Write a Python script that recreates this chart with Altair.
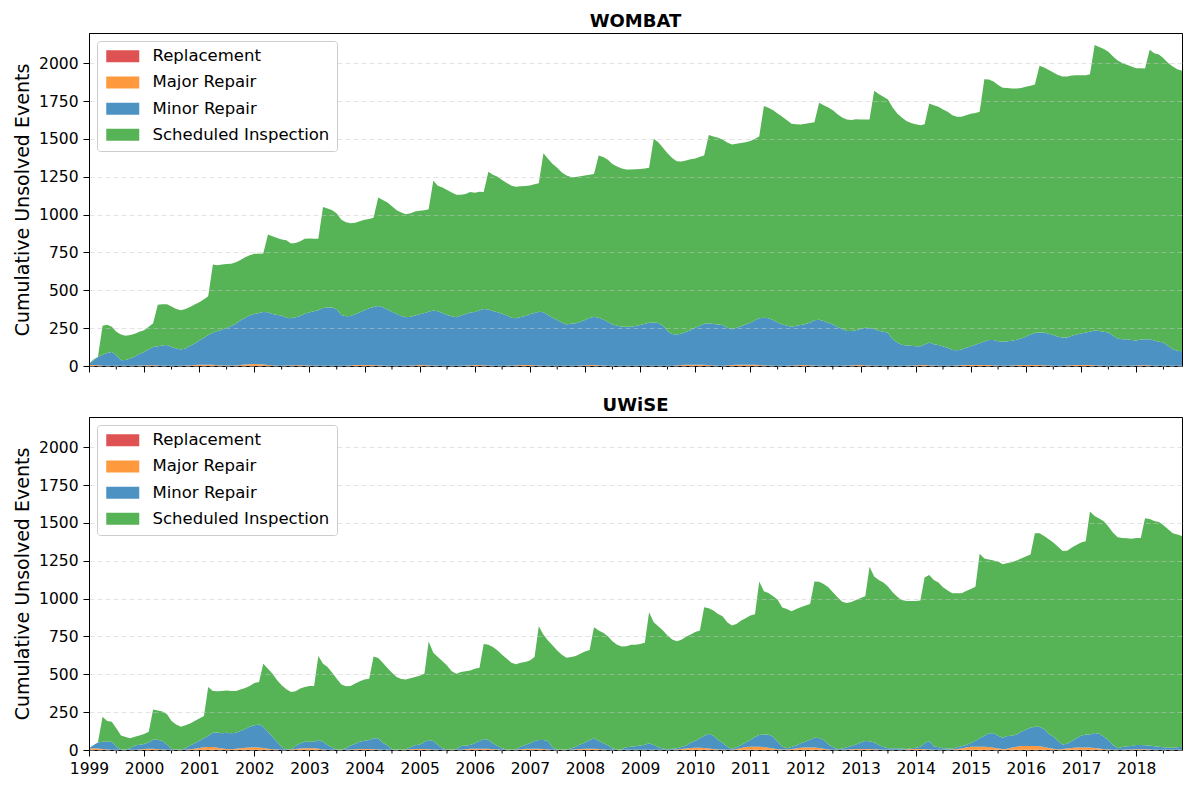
import altair as alt
import pandas as pd

CATEGORIES = ["Replacement", "Major Repair", "Minor Repair", "Scheduled Inspection"]
COLORS = ["#de5253", "#ff993e", "#4c92c3", "#56b356"]
YEARS = list(range(1999, 2019))

# monthly readings, Jan 1999 .. Nov 2018 (top edge of the whole stack)
WOMBAT_TOTAL = [
    15, 44, 60, 266, 273, 260, 226, 208, 200, 204, 213, 226,
    237, 260, 282, 404, 408, 408, 393, 377, 368, 377, 390, 406,
    421, 441, 461, 670, 665, 670, 674, 676, 685, 701, 719, 732,
    741, 741, 743, 869, 858, 845, 836, 830, 810, 812, 825, 841,
    843, 841, 841, 1051, 1040, 1029, 1007, 967, 949, 943, 947, 956,
    967, 971, 980, 1113, 1096, 1080, 1056, 1029, 1014, 1003, 1009, 1020,
    1025, 1029, 1036, 1224, 1191, 1180, 1162, 1147, 1131, 1131, 1136, 1149,
    1145, 1151, 1149, 1284, 1264, 1251, 1229, 1209, 1191, 1184, 1187, 1189,
    1193, 1200, 1207, 1406, 1369, 1335, 1309, 1278, 1258, 1249, 1249, 1253,
    1258, 1264, 1269, 1391, 1380, 1362, 1335, 1318, 1304, 1298, 1298, 1300,
    1302, 1304, 1309, 1502, 1479, 1442, 1406, 1375, 1353, 1351, 1357, 1366,
    1371, 1382, 1391, 1526, 1517, 1508, 1497, 1477, 1464, 1468, 1473, 1479,
    1486, 1502, 1517, 1717, 1706, 1690, 1668, 1646, 1624, 1601, 1597, 1595,
    1601, 1606, 1610, 1739, 1723, 1708, 1690, 1664, 1641, 1628, 1626, 1630,
    1629, 1628, 1628, 1819, 1797, 1779, 1761, 1708, 1668, 1641, 1619, 1606,
    1597, 1590, 1597, 1734, 1723, 1712, 1695, 1679, 1657, 1646, 1646, 1657,
    1666, 1672, 1679, 1894, 1892, 1879, 1856, 1839, 1837, 1834, 1834, 1837,
    1845, 1852, 1859, 1983, 1972, 1956, 1939, 1923, 1912, 1912, 1919, 1921,
    1921, 1921, 1927, 2120, 2107, 2094, 2076, 2045, 2018, 2001, 1990, 1978,
    1967, 1967, 1965, 2089, 2067, 2058, 2034, 2001, 1978, 1961, 1950,
]
# top edge of the Minor Repair band
WOMBAT_MINOR_TOP = [
    15, 38, 60, 75, 86, 93, 71, 38, 40, 49, 62, 80,
    93, 111, 126, 131, 135, 138, 126, 115, 109, 115, 133, 149,
    169, 186, 204, 220, 231, 240, 253, 264, 279, 302, 319, 333,
    344, 350, 357, 355, 344, 337, 333, 319, 315, 322, 330, 346,
    355, 362, 368, 384, 386, 386, 375, 337, 328, 330, 342, 355,
    368, 382, 390, 397, 388, 373, 359, 346, 330, 322, 326, 333,
    342, 350, 359, 366, 362, 350, 337, 328, 322, 333, 344, 353,
    357, 368, 377, 373, 364, 355, 346, 333, 319, 315, 324, 330,
    342, 350, 359, 355, 337, 319, 304, 288, 275, 279, 282, 293,
    304, 317, 326, 319, 308, 293, 275, 266, 260, 260, 260, 264,
    271, 279, 286, 288, 284, 266, 231, 211, 208, 213, 226, 237,
    253, 266, 279, 282, 277, 275, 271, 253, 242, 253, 262, 275,
    286, 302, 315, 319, 315, 304, 288, 275, 266, 260, 266, 271,
    277, 288, 302, 306, 297, 286, 275, 257, 244, 231, 231, 237,
    244, 253, 251, 244, 233, 226, 220, 177, 155, 140, 135, 133,
    131, 131, 142, 155, 144, 138, 129, 120, 106, 104, 109, 120,
    131, 140, 151, 162, 171, 171, 164, 160, 164, 166, 173, 182,
    193, 208, 220, 222, 222, 213, 204, 193, 189, 189, 200, 208,
    215, 222, 226, 235, 231, 226, 222, 200, 182, 177, 177, 171,
    169, 175, 177, 177, 169, 160, 155, 133, 111, 100, 98,
]
WOMBAT_MAJOR = [
    6, 6, 4, 2, 1, 1, 1, 1, 1, 1, 2, 3,
    4, 5, 4, 2, 1, 1, 1, 1, 2, 3, 4, 5,
    7, 8, 8, 7, 5, 4, 3, 3, 4, 6, 9, 11,
    12, 11, 9, 6, 4, 2, 2, 3, 4, 5, 5, 4,
    3, 2, 2, 2, 2, 2, 2, 2, 2, 3, 5, 6,
    6, 5, 5, 4, 3, 2, 2, 2, 2, 2, 3, 4,
    5, 5, 4, 3, 2, 2, 2, 2, 2, 2, 3, 4,
    5, 5, 4, 3, 2, 2, 2, 2, 3, 4, 5, 5,
    5, 4, 3, 2, 2, 2, 2, 2, 2, 2, 2, 3,
    4, 5, 5, 4, 3, 2, 2, 2, 2, 2, 2, 2,
    2, 2, 2, 2, 2, 2, 2, 2, 3, 5, 7, 8,
    8, 8, 7, 5, 3, 2, 2, 3, 5, 7, 8, 8,
    8, 7, 6, 4, 3, 2, 2, 2, 2, 3, 4, 5,
    5, 4, 3, 2, 2, 2, 2, 2, 2, 3, 4, 5,
    5, 4, 3, 2, 2, 2, 2, 2, 2, 2, 2, 3,
    4, 5, 5, 4, 3, 2, 2, 2, 2, 3, 4, 5,
    6, 6, 6, 6, 5, 4, 3, 2, 2, 3, 4, 5,
    6, 6, 6, 5, 4, 3, 2, 2, 2, 3, 4, 5,
    5, 5, 5, 4, 3, 2, 2, 2, 2, 2, 2, 2,
    3, 4, 4, 3, 2, 2, 2, 2, 2, 2, 2,
]
WOMBAT_REPLACEMENT = [
    1, 1, 1, 0, 0, 0, 0, 0, 0, 0, 0, 0,
    0, 0, 1, 1, 0, 0, 0, 0, 0, 0, 0, 1,
    1, 1, 1, 1, 0, 0, 0, 0, 0, 1, 1, 1,
    1, 1, 1, 0, 0, 0, 0, 0, 0, 0, 0, 0,
    0, 0, 0, 0, 0, 0, 0, 0, 0, 0, 1, 1,
    1, 1, 0, 0, 0, 0, 0, 0, 0, 0, 0, 0,
    1, 1, 0, 0, 0, 0, 0, 0, 0, 0, 0, 0,
    1, 1, 0, 0, 0, 0, 0, 0, 0, 0, 1, 1,
    1, 0, 0, 0, 0, 0, 0, 0, 0, 0, 0, 0,
    0, 1, 1, 0, 0, 0, 0, 0, 0, 0, 0, 0,
    0, 0, 0, 0, 0, 0, 0, 0, 0, 1, 1, 1,
    1, 1, 1, 0, 0, 0, 0, 0, 1, 1, 1, 1,
    1, 1, 1, 0, 0, 0, 0, 0, 0, 0, 0, 1,
    1, 0, 0, 0, 0, 0, 0, 0, 0, 0, 0, 1,
    1, 0, 0, 0, 0, 0, 0, 0, 0, 0, 0, 0,
    0, 1, 1, 0, 0, 0, 0, 0, 0, 0, 1, 1,
    1, 1, 1, 1, 1, 0, 0, 0, 0, 0, 1, 1,
    1, 1, 1, 1, 0, 0, 0, 0, 0, 0, 1, 1,
    1, 1, 1, 0, 0, 0, 0, 0, 0, 0, 0, 0,
    0, 1, 1, 0, 0, 0, 0, 0, 0, 0, 0,
]

UWISE_TOTAL = [
    11, 33, 50, 219, 191, 186, 143, 96, 86, 77, 88, 96,
    105, 121, 268, 261, 254, 237, 191, 169, 154, 164, 175, 191,
    208, 224, 417, 390, 388, 390, 393, 390, 390, 399, 410, 423,
    443, 450, 570, 537, 504, 461, 428, 401, 384, 388, 406, 417,
    423, 423, 621, 570, 548, 511, 471, 432, 421, 423, 439, 454,
    465, 471, 618, 607, 577, 542, 511, 482, 469, 465, 474, 482,
    491, 504, 717, 643, 614, 586, 559, 520, 504, 515, 520, 526,
    537, 544, 700, 695, 680, 658, 629, 603, 577, 566, 577, 581,
    592, 614, 818, 761, 724, 691, 658, 629, 610, 614, 621, 636,
    651, 660, 811, 789, 774, 752, 719, 695, 684, 686, 695, 695,
    700, 708, 910, 844, 818, 789, 757, 730, 719, 728, 748, 763,
    779, 789, 943, 936, 921, 899, 884, 844, 822, 833, 855, 870,
    888, 897, 1114, 1048, 1037, 1015, 993, 941, 932, 917, 932, 943,
    954, 965, 1114, 1112, 1097, 1075, 1042, 1009, 980, 971, 978, 991,
    1004, 1015, 1211, 1147, 1123, 1107, 1081, 1042, 1013, 991, 985, 985,
    985, 987, 1140, 1156, 1123, 1107, 1075, 1053, 1035, 1035, 1035, 1050,
    1064, 1079, 1296, 1265, 1259, 1252, 1246, 1228, 1235, 1241, 1252, 1265,
    1279, 1292, 1432, 1432, 1414, 1393, 1371, 1342, 1314, 1316, 1338, 1355,
    1371, 1379, 1575, 1546, 1529, 1511, 1476, 1436, 1406, 1401, 1399, 1395,
    1401, 1401, 1531, 1526, 1513, 1507, 1485, 1458, 1432, 1423, 1414,
]
UWISE_MINOR_TOP = [
    11, 33, 50, 55, 55, 55, 22, 5, 4, 12, 29, 35,
    39, 50, 70, 68, 59, 37, 6, 3, 3, 12, 29, 44,
    61, 77, 94, 114, 116, 110, 114, 110, 114, 125, 138, 154,
    164, 169, 154, 121, 88, 55, 18, 5, 5, 26, 44, 55,
    55, 55, 66, 55, 33, 15, 3, 4, 12, 29, 42, 55,
    61, 66, 77, 77, 48, 29, 5, 4, 4, 4, 20, 31,
    37, 53, 66, 59, 33, 12, 4, 4, 5, 26, 29, 33,
    44, 59, 72, 66, 44, 26, 12, 4, 4, 5, 22, 33,
    44, 59, 66, 66, 59, 15, 4, 4, 4, 10, 22, 37,
    50, 66, 77, 61, 44, 31, 12, 4, 5, 18, 22, 25,
    29, 35, 44, 33, 18, 10, 5, 8, 12, 20, 29, 48,
    61, 77, 94, 107, 94, 66, 48, 22, 6, 18, 33, 50,
    66, 86, 99, 103, 103, 88, 55, 22, 12, 20, 29, 44,
    55, 68, 81, 79, 66, 37, 20, 5, 10, 18, 26, 37,
    50, 59, 57, 50, 33, 20, 12, 12, 12, 10, 6, 12,
    15, 22, 44, 59, 24, 18, 12, 10, 8, 18, 24, 33,
    46, 61, 77, 94, 110, 110, 94, 81, 92, 94, 103, 121,
    134, 147, 154, 154, 138, 105, 90, 59, 37, 42, 59, 77,
    94, 103, 103, 112, 107, 88, 66, 33, 12, 20, 24, 26,
    33, 33, 31, 29, 24, 22, 18, 15, 15, 18, 22,
]
UWISE_MAJOR = [
    8, 10, 9, 6, 4, 2, 2, 1, 1, 2, 2, 3,
    5, 7, 7, 5, 3, 1, 1, 1, 1, 2, 4, 8,
    12, 16, 18, 17, 14, 9, 6, 5, 7, 10, 13, 15,
    16, 15, 12, 8, 5, 3, 2, 2, 3, 6, 9, 11,
    11, 10, 7, 4, 2, 1, 1, 1, 2, 3, 4, 5,
    5, 5, 4, 3, 2, 1, 1, 1, 1, 2, 4, 6,
    6, 5, 4, 3, 2, 1, 1, 1, 1, 2, 4, 7,
    8, 8, 8, 7, 5, 3, 2, 1, 1, 2, 4, 7,
    8, 8, 7, 5, 3, 1, 1, 1, 1, 2, 4, 6,
    8, 8, 8, 6, 4, 2, 1, 1, 1, 2, 2, 2,
    2, 2, 2, 2, 2, 1, 1, 2, 3, 5, 9, 12,
    13, 13, 12, 9, 6, 4, 3, 2, 2, 6, 12, 17,
    20, 20, 20, 18, 14, 9, 5, 3, 3, 5, 9, 13,
    15, 15, 15, 13, 8, 4, 2, 1, 2, 3, 4, 6,
    6, 6, 6, 4, 3, 2, 2, 2, 2, 2, 3, 5,
    5, 5, 4, 3, 2, 2, 2, 2, 3, 5, 9, 15,
    19, 20, 20, 20, 18, 14, 9, 6, 8, 14, 20, 24,
    25, 25, 24, 22, 18, 12, 7, 4, 5, 9, 13, 15,
    15, 15, 15, 13, 9, 5, 3, 2, 2, 2, 3, 3,
    4, 4, 4, 3, 2, 2, 2, 2, 2, 2, 2,
]
UWISE_REPLACEMENT = [
    1, 1, 1, 1, 0, 0, 0, 0, 0, 0, 0, 0,
    1, 1, 1, 0, 0, 0, 0, 0, 0, 0, 1, 1,
    2, 2, 2, 2, 1, 1, 0, 0, 1, 1, 2, 2,
    2, 2, 1, 1, 0, 0, 0, 0, 0, 1, 1, 1,
    1, 1, 1, 0, 0, 0, 0, 0, 0, 0, 1, 1,
    1, 1, 1, 0, 0, 0, 0, 0, 0, 0, 1, 1,
    1, 1, 1, 0, 0, 0, 0, 0, 0, 0, 1, 1,
    1, 1, 1, 1, 0, 0, 0, 0, 0, 0, 1, 1,
    1, 1, 1, 1, 0, 0, 0, 0, 0, 0, 1, 1,
    1, 1, 1, 1, 0, 0, 0, 0, 0, 0, 0, 0,
    0, 0, 0, 0, 0, 0, 0, 0, 0, 1, 1, 1,
    2, 2, 2, 1, 1, 0, 0, 0, 0, 1, 2, 2,
    2, 2, 2, 2, 1, 1, 0, 0, 0, 1, 1, 2,
    2, 2, 2, 1, 1, 0, 0, 0, 0, 0, 1, 1,
    1, 1, 1, 1, 0, 0, 0, 0, 0, 0, 0, 1,
    1, 1, 1, 0, 0, 0, 0, 0, 0, 1, 1, 2,
    2, 2, 2, 2, 2, 1, 1, 1, 1, 2, 2, 2,
    2, 2, 2, 2, 2, 1, 1, 0, 1, 1, 1, 2,
    2, 2, 2, 1, 1, 0, 0, 0, 0, 0, 0, 0,
    1, 1, 1, 0, 0, 0, 0, 0, 0, 0, 0,
]

PLOT_W, PLOT_H = 1093, 333
# legend swatch: 33 x 12 px drawn with symbolSize 144 (unit radius 6)
RECT = "M-2.75,-1L2.75,-1L2.75,1L-2.75,1Z"


def build_frame(total, minor_top, major, repl):
    months = pd.date_range("1999-01-01", periods=len(total), freq="MS")
    rows = []
    for i, d in enumerate(months):
        minor = max(minor_top[i] - major[i] - repl[i], 0)
        insp = max(total[i] - minor_top[i], 0)
        for k, v in enumerate([repl[i], major[i], minor, insp]):
            rows.append({"date": d, "category": CATEGORIES[k], "value": v, "rank": k})
    return pd.DataFrame(rows)


minor_ticks = pd.DataFrame({"date": pd.to_datetime([f"{y}-07-01" for y in YEARS])})


def panel(title, df, show_labels):
    x_axis = alt.Axis(
        values=[alt.DateTime(year=y, month=1, date=1) for y in YEARS],
        format="%Y", labels=show_labels, labelFlush=False, labelOverlap=False,
        tickSize=6, labelPadding=5, grid=False, title=None, labelFontSize=15.5,
    )
    x_scale = alt.Scale(
        domain=[alt.DateTime(year=1999, month=1, date=1),
                alt.DateTime(year=2018, month=11, date=1)], nice=False)
    y_axis = alt.Axis(
        values=list(range(0, 2001, 250)), format="d", title="Cumulative Unsolved Events",
        grid=True, gridDash=[5, 3], gridColor="#c8c8c8", gridOpacity=0.5,
        tickSize=6, labelPadding=5, titlePadding=6, zindex=1, labelFontSize=15.5,
    )
    legend = alt.Legend(
        title=None, orient="none", legendX=8, legendY=8, zindex=2,
        symbolType=RECT, symbolSize=144, symbolStrokeWidth=0, symbolOpacity=1,
        symbolOffset=10.5, labelOffset=21.5,
        labelFontSize=16.5, labelLimit=300, rowPadding=9.2,
        padding=7, strokeColor="#cccccc", fillColor="white", cornerRadius=3,
    )
    areas = alt.Chart(df).mark_area(interpolate="linear", opacity=1).encode(
        x=alt.X("date:T", axis=x_axis, scale=x_scale),
        y=alt.Y("value:Q", stack="zero", axis=y_axis,
                scale=alt.Scale(domain=[0, 2200], nice=False)),
        color=alt.Color("category:N", legend=legend,
                        scale=alt.Scale(domain=CATEGORIES, range=COLORS)),
        order=alt.Order("rank:Q", sort="ascending"),
    )
    minor = alt.Chart(minor_ticks).mark_rule(color="black", strokeWidth=1).encode(
        x=alt.X("date:T", axis=x_axis, scale=x_scale),
        y=alt.value(PLOT_H),
        y2=alt.value(PLOT_H + 3.5),
    )
    return alt.layer(areas, minor).properties(
        width=PLOT_W, height=PLOT_H,
        title=alt.Title(title, fontSize=18, fontWeight="bold", offset=2, anchor="middle"),
    )


top = panel("WOMBAT", build_frame(WOMBAT_TOTAL, WOMBAT_MINOR_TOP, WOMBAT_MAJOR, WOMBAT_REPLACEMENT), False)
bottom = panel("UWiSE", build_frame(UWISE_TOTAL, UWISE_MINOR_TOP, UWISE_MAJOR, UWISE_REPLACEMENT), True)

chart = alt.vconcat(top, bottom, spacing=21).resolve_scale(color="independent").properties(
    padding={"left": 5, "top": 4, "right": 2, "bottom": 2}
).configure_view(
    stroke="black", strokeWidth=1
).configure_axis(
    domainColor="black", tickColor="black", labelColor="black", titleColor="black",
    labelFont="DejaVu Sans", titleFont="DejaVu Sans",
    titleFontSize=19, titleFontWeight="normal", domainWidth=1, tickWidth=1,
).configure_legend(
    labelFont="DejaVu Sans", labelColor="black",
).configure_title(
    font="DejaVu Sans", color="black",
)

chart.save("out.html", embed_options={"renderer": "svg", "actions": False})
